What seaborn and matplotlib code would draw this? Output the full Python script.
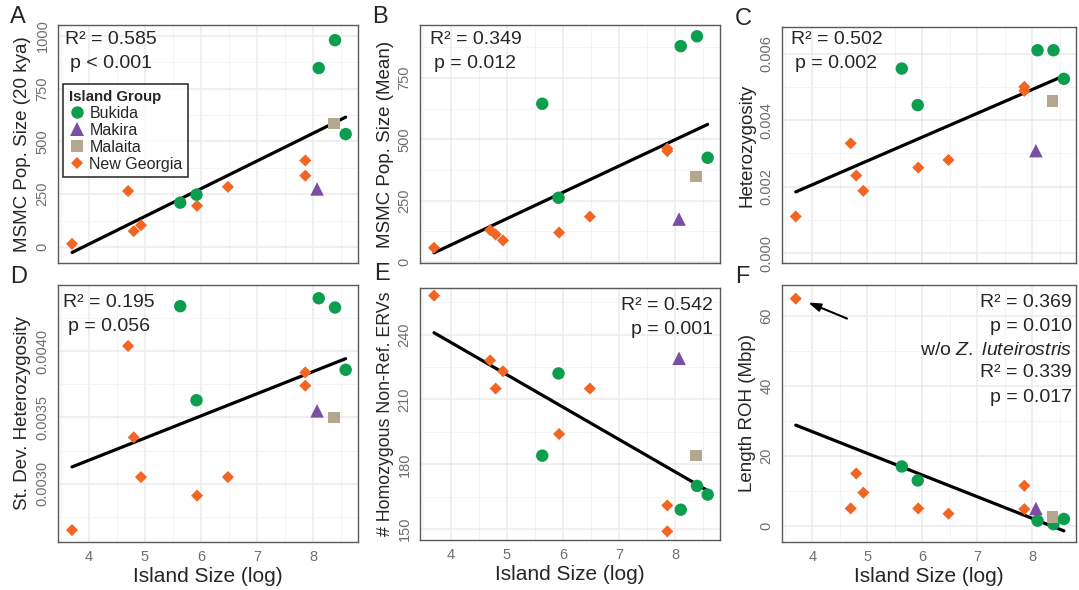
import matplotlib
matplotlib.use("Agg")
import pandas as pd
import matplotlib.pyplot as plt
import seaborn as sns
from matplotlib.ticker import AutoMinorLocator, FixedLocator

# ================================
# Data
# ================================
island_group = ["New Georgia"] * 8 + ["Bukida"] * 5 + ["Makira", "Malaita"]
island_size = [3.70, 4.70, 4.80, 4.93, 5.93, 6.48, 7.86, 7.86,
               5.63, 5.92, 8.10, 8.39, 8.58,
               8.07, 8.37]

msmc_20kya = [15, 265, 75, 103, 195, 285, 410, 338,
              210, 248, 848, 980, 535,
              275, 585]
msmc_mean = [58, 130, 112, 88, 120, 185, 462, 452,
             645, 262, 880, 920, 425,
             175, 348]
heterozygosity = [0.00110, 0.00330, 0.00233, 0.00187, 0.00257, 0.00280, 0.00500, 0.00488,
                  0.00555, 0.00445, 0.00610, 0.00610, 0.00524,
                  0.00308, 0.00458]
sd_heterozygosity = [0.00265, 0.00404, 0.00335, 0.00305, 0.00291, 0.00305, 0.00384, 0.00374,
                     0.00434, 0.00363, 0.00440, 0.00433, 0.00386,
                     0.00355, 0.00350]
hom_ervs = [258, 228, 215, 223, 194, 215, 161, 149,
            184, 222, 159, 170, 166,
            229, 184]
roh_length = [65, 5, 15, 9.5, 5, 3.5, 11.5, 4.8,
              17, 13, 1.5, 0.5, 2,
              5, 2.5]

group_order = ["Bukida", "Makira", "Malaita", "New Georgia"]
palette = {"Bukida": "#0a9e4e", "Makira": "#7a4ea3", "Malaita": "#b4a78f", "New Georgia": "#f26522"}
markers = {"Bukida": "o", "Makira": "^", "Malaita": "s", "New Georgia": "D"}
sizes = {"Bukida": 80, "Makira": 95, "Malaita": 70, "New Georgia": 38}

# ================================
# Style
# ================================
sns.set_theme(style="white")
plt.rcParams["font.family"] = ["Liberation Sans", "DejaVu Sans"]
plt.rcParams["mathtext.fontset"] = "custom"
plt.rcParams["mathtext.rm"] = "Liberation Sans"
plt.rcParams["mathtext.it"] = "Liberation Sans:italic"

W, H = 1079, 590
fig = plt.figure(figsize=(W / 100, H / 100), dpi=100)


def add_ax(left, top, right, bottom):
    return fig.add_axes([left / W, (H - bottom) / H, (right - left) / W, (bottom - top) / H])


def panel(ax, y, ylabel, ylim, yticks, fmt, bottom_row, legend=False, ylabel_size=13.5):
    df = pd.DataFrame({"size": island_size, "val": y, "group": island_group})
    sns.regplot(data=df, x="size", y="val", scatter=False, ci=None, color="black",
                line_kws=dict(lw=2.3, zorder=3), ax=ax)
    sns.scatterplot(data=df, x="size", y="val", hue="group", style="group", size="group",
                    hue_order=group_order, style_order=group_order, size_order=group_order,
                    palette=palette, markers=markers, sizes=sizes, linewidth=0,
                    legend=legend, ax=ax, zorder=4)
    ax.set_xlim(3.45, 8.8)
    ax.set_ylim(*ylim)
    ax.xaxis.set_major_locator(FixedLocator([4, 5, 6, 7, 8]))
    ax.yaxis.set_major_locator(FixedLocator(yticks))
    ax.xaxis.set_minor_locator(AutoMinorLocator(2))
    ax.yaxis.set_minor_locator(AutoMinorLocator(2))
    ax.set_yticklabels([fmt.format(v) for v in yticks])
    ax.grid(True, which="major", color="#ebebeb", lw=1.1, zorder=0)
    ax.grid(True, which="minor", color="#f3f3f3", lw=0.6, zorder=0)
    ax.set_axisbelow(True)
    for s in ax.spines.values():
        s.set_color("#5a5a5a")
        s.set_linewidth(1.0)
    ax.tick_params(axis="both", which="major", length=3.5, width=0.9, color="#333333",
                   labelsize=10.5, labelcolor="#6e6e6e", pad=2.5, direction="out")
    ax.tick_params(axis="both", which="minor", length=0)
    ax.tick_params(axis="y", labelrotation=90)
    for lab in ax.get_yticklabels():
        lab.set_va("center")
    ax.set_ylabel(ylabel, fontsize=ylabel_size, labelpad=3)
    if bottom_row:
        ax.set_xlabel("Island Size (log)", fontsize=15, labelpad=2)
    else:
        ax.set_xlabel("")
        ax.set_xticklabels([])
    if legend:
        h, l = ax.get_legend_handles_labels()
        leg = ax.legend(h, l, title="Island Group", loc="upper left", bbox_to_anchor=(0.017, 0.75),
                        borderaxespad=0, fontsize=11.5,
                        title_fontproperties={"weight": "bold", "size": 10.8},
                        frameon=True, fancybox=False, edgecolor="black", handletextpad=0.3,
                        borderpad=0.35, labelspacing=0.12, handlelength=1.0, alignment="left")
        leg.get_frame().set_linewidth(1.2)


def stats(ax, lines, x, ys, ha="center"):
    for txt, yy in zip(lines, ys):
        ax.text(x, yy, txt, transform=ax.transAxes, ha=ha, va="center", fontsize=14, zorder=5)


axA = add_ax(58, 25, 358, 263)
axB = add_ax(420, 25, 720, 263)
axC = add_ax(782, 27, 1076, 263)
axD = add_ax(58, 285, 358, 542)
axE = add_ax(420, 288, 720, 540)
axF = add_ax(782, 285, 1076, 542)

panel(axA, msmc_20kya, "MSMC Pop. Size (20 kya)", (-76, 1052), [0, 250, 500, 750, 1000], "{:.0f}", False, legend=True)
panel(axB, msmc_mean, "MSMC Pop. Size (Mean)", (-4, 966), [0, 250, 500, 750], "{:.0f}", False)
panel(axC, heterozygosity, "Heterozygosity", (-0.0003, 0.0068), [0.0, 0.002, 0.004, 0.006], "{:.3f}", False)
panel(axD, sd_heterozygosity, "St. Dev. Heterozygosity", (0.00256, 0.0045), [0.003, 0.0035, 0.004], "{:.4f}", True)
panel(axE, hom_ervs, "# Homozygous Non-Ref. ERVs", (145, 261.5), [150, 180, 210, 240], "{:.0f}", True,
      ylabel_size=12.8)
panel(axF, roh_length, "Length ROH (Mbp)", (-4.6, 68.9), [0, 20, 40, 60], "{:.0f}", True)

stats(axA, ["R² = 0.585", "p < 0.001"], 0.175, [0.937, 0.84])
stats(axB, ["R² = 0.349", "p = 0.012"], 0.185, [0.937, 0.84])
stats(axC, ["R² = 0.502", "p = 0.002"], 0.185, [0.945, 0.847])
stats(axD, ["R² = 0.195", "p = 0.056"], 0.17, [0.93, 0.837])
stats(axE, ["R² = 0.542", "p = 0.001"], 0.977, [0.93, 0.835], ha="right")
stats(axF, ["R² = 0.369", "p = 0.010", r"w/o $\mathit{Z.\ luteirostris}$", "R² = 0.339", "p = 0.017"],
      0.986, [0.93, 0.837, 0.747, 0.658, 0.564], ha="right")

# arrow pointing at the Z. luteirostris outlier
axF.annotate("", xy=(3.88, 64.2), xytext=(4.68, 59.0),
             arrowprops=dict(arrowstyle="-|>,head_length=0.6,head_width=0.2", color="black", lw=1.5))

for letter, x, y in [("A", 10, 6), ("B", 372, 6), ("C", 735, 8), ("D", 10, 266), ("E", 374, 263), ("F", 735, 266)]:
    fig.text(x / W, 1 - y / H, letter, fontsize=17, ha="left", va="top")

plt.savefig("out.png", dpi=100)
